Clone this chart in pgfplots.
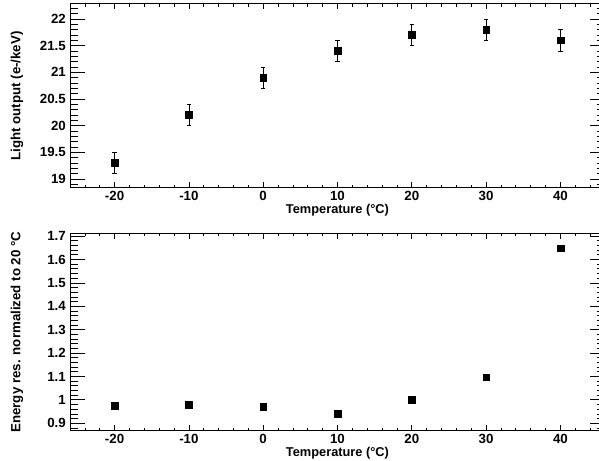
\documentclass[border=0pt]{standalone}
\usepackage{fontspec}
\setmainfont{Liberation Sans}
\usepackage{pgfplots}
\pgfplotsset{compat=1.18}

\newcommand{\rootfont}{\bfseries\fontsize{13.3}{13.3}\selectfont}
\newcommand{\titlefont}{\bfseries\fontsize{12.8}{12.8}\selectfont}

\pgfplotsset{
  rootstyle/.style={
    scale only axis,
    width=535pt,
    xmin=-26, xmax=46,
    xtick distance=10,
    minor x tick num=4,
    tick align=inside,
    axis line style={line width=1pt},
    every tick/.style={black, line width=0.7pt},
    xtick style={/pgfplots/major tick length=5.5pt,/pgfplots/minor tick length=2.8pt},
    ytick style={/pgfplots/major tick length=15pt,/pgfplots/minor tick length=8pt},
    /pgf/number format/assume math mode=true,
    ticklabel style={font=\rootfont},
    xticklabel style={inner sep=0pt, yshift=-3pt},
    yticklabel style={inner sep=0pt, xshift=-4pt},
    every axis x label/.style={at={(axis description cs:0.5,0)}, anchor=base, yshift=-25.5pt,
      inner sep=0pt, font=\titlefont},
    every axis y label/.style={at={(axis description cs:-0.0991,0.5)}, rotate=90, anchor=center,
      font=\rootfont},
    xlabel={Temperature (°C)},
  },
  sqmark/.style={only marks, mark=square*, mark size=3.4pt, black, mark options={draw=black, fill=black}},
}

\begin{document}
\begin{tikzpicture}
\useasboundingbox (0,0) rectangle (599pt,460pt);
\clip (0,0) rectangle (599pt,460pt);

% light output versus temperature
\begin{axis}[rootstyle,
  at={(70pt,272pt)}, anchor=south west,
  height=184pt,
  ymin=18.83, ymax=22.28,
  ytick distance=0.5,
  minor y tick num=4,
  ylabel={Light output (e-/keV)},
]
\addplot+[sqmark,
  error bars/.cd, y dir=both, y explicit,
  error bar style={line width=0.7pt, black},
  error mark options={black, line width=0.7pt, mark size=2.2pt, rotate=90},
] table[x=T, y=L, y error=dL] {
T    L     dL
-20  19.3  0.2
-10  20.2  0.2
0    20.9  0.2
10   21.4  0.2
20   21.7  0.2
30   21.8  0.2
40   21.6  0.2
};
\end{axis}

% energy resolution relative to the 20 degC value
\begin{axis}[rootstyle,
  at={(70pt,29.3pt)}, anchor=south west,
  height=197.2pt,
  ymin=0.868, ymax=1.711,
  ytick distance=0.1,
  minor y tick num=4,
  ylabel={Energy res. normalized to 20 °C},
]
\addplot+[sqmark] table[x=T, y=R] {
T    R
-20  0.975
-10  0.978
0    0.970
10   0.940
20   1.000
30   1.097
40   1.648
};
\end{axis}
\end{tikzpicture}
\end{document}
